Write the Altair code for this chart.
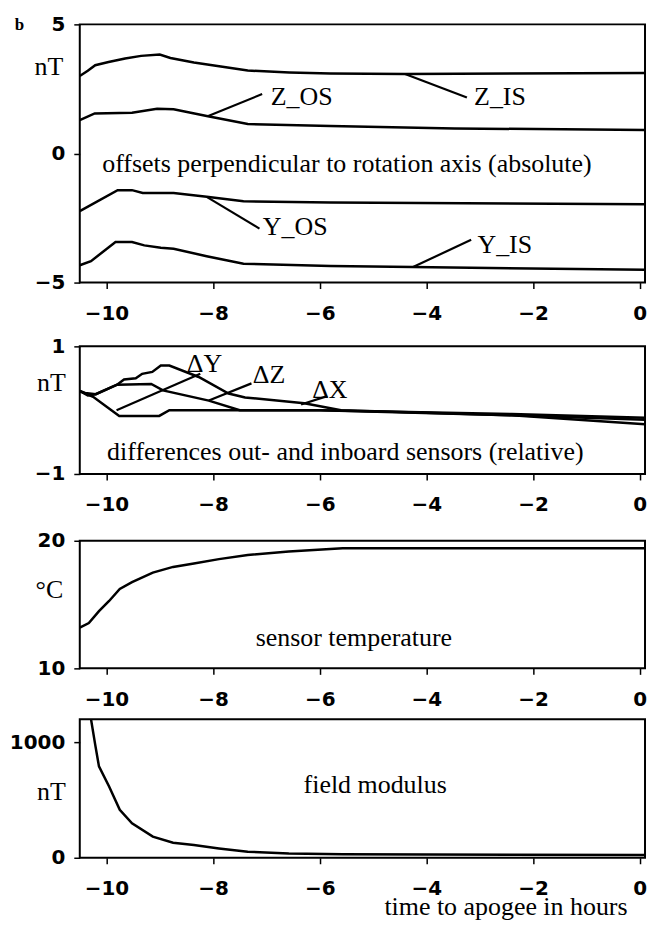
import altair as alt
import pandas as pd

SERIF = "Liberation Serif"
SANS = "DejaVu Sans"

x_ticks = [-10, -8, -6, -4, -2, 0]
x_domain = [-10.5, 0.1]

# ---- panel 1: offsets (nT)
z_is_t = [-10.5, -10.35, -10.21, -9.96, -9.65, -9.35, -9.0, -8.8, -8.36, -7.35, -6.57, -5.8, -4.4, 0.1]
z_is_v = [3.0, 3.2, 3.42, 3.54, 3.68, 3.78, 3.83, 3.70, 3.52, 3.21, 3.14, 3.10, 3.08, 3.12]
z_os_t = [-10.5, -10.22, -9.52, -9.05, -8.74, -8.12, -7.35, -5.8, -3.47, 0.1]
z_os_v = [1.29, 1.55, 1.58, 1.73, 1.71, 1.45, 1.14, 1.06, 0.97, 0.91]
y_os_t = [-10.5, -9.79, -9.52, -9.32, -8.74, -8.12, -7.43, -5.8, 0.1]
y_os_v = [-2.23, -1.42, -1.42, -1.53, -1.53, -1.68, -1.85, -1.90, -1.97]
y_is_t = [-10.5, -10.29, -9.83, -9.52, -9.29, -8.98, -8.74, -8.12, -7.43, -5.8, -4.26, 0.1]
y_is_v = [-4.33, -4.17, -3.43, -3.43, -3.56, -3.65, -3.69, -3.98, -4.27, -4.36, -4.40, -4.50]

p1_labels = ["Z_OS", "Z_IS", "Y_OS", "Y_IS", "offsets perpendicular to rotation axis (absolute)"]
p1_label_t = [-6.34, -2.62, -6.46, -2.53, -5.49]
p1_label_v = [2.20, 2.17, -2.85, -3.56, -0.39]
p1_lead_t = [-8.09, -4.40, -8.12, -4.25]
p1_lead_v = [1.45, 3.08, -1.68, -4.40]
p1_lead_t2 = [-7.08, -3.24, -7.13, -3.16]
p1_lead_v2 = [2.30, 2.17, -2.91, -3.34]

# figure panel letter (annotation in panel-1 data units, left of the axis)
panel_letter = ["b"]
panel_letter_t = [-11.63]
panel_letter_v = [4.98]

# ---- panel 2: differences (nT)
dx_t = [-10.5, -10.35, -10.2, -9.8, -9.67, -9.45, -9.33, -9.14, -8.98, -8.82, -8.27, -7.71, -7.40, -6.29, -5.6, -2.4, 0.1]
dx_v = [0.30, 0.23, 0.25, 0.40, 0.48, 0.50, 0.57, 0.60, 0.70, 0.70, 0.52, 0.26, 0.20, 0.11, 0.0, -0.08, -0.22]
dz_t = [-10.5, -10.4, -10.2, -9.8, -9.16, -8.94, -8.08, -7.5, -6.0, -2.4, 0.1]
dz_v = [0.30, 0.27, 0.25, 0.40, 0.41, 0.31, 0.15, 0.0, 0.0, -0.06, -0.12]
dy_t = [-10.5, -10.25, -9.76, -9.01, -8.82, -6.0, -2.4, 0.1]
dy_v = [0.30, 0.21, -0.09, -0.09, 0.0, 0.0, -0.08, -0.15]

p2_labels = ["ΔY", "ΔZ", "ΔX", "differences out- and inboard sensors (relative)"]
p2_label_t = [-8.16, -6.95, -5.81, -5.52]
p2_label_v = [0.72, 0.55, 0.32, -0.65]
p2_lead_t = [-9.81, -8.08, -6.35]
p2_lead_v = [0.0, 0.15, 0.09]
p2_lead_t2 = [-8.24, -7.28, -5.86]
p2_lead_v2 = [0.57, 0.42, 0.22]

# ---- panel 3: sensor temperature (°C)
temp_t = [-10.5, -10.33, -10.14, -9.95, -9.75, -9.52, -9.13, -8.75, -8.36, -7.89, -7.35, -6.58, -5.57, 0.1]
temp_v = [13.2, 13.55, 14.48, 15.28, 16.22, 16.75, 17.5, 17.95, 18.22, 18.56, 18.88, 19.15, 19.41, 19.41]
p3_labels = ["sensor temperature"]
p3_label_t = [-5.36]
p3_label_v = [12.35]

# ---- panel 4: field modulus (nT)
field_t = [-10.5, -10.3, -10.21, -10.14, -9.95, -9.75, -9.52, -9.13, -8.75, -8.36, -7.89, -7.35, -6.58, -5.57, 0.1]
field_v = [1260, 1230, 978, 791, 617, 415, 299, 183, 130, 110, 81, 52, 38, 30, 23]
p4_labels = ["field modulus"]
p4_label_t = [-4.96]
p4_label_v = [632]

W = 567
TXT = 26


def series(pairs):
    frames = []
    for name, t, v in pairs:
        frames.append(pd.DataFrame({"t": t, "v": v, "s": name}))
    return pd.concat(frames, ignore_index=True)


def x_enc(last=False):
    kw = dict(
        values=x_ticks, format="d", grid=False, domain=False, tickColor="black", tickSize=6, tickWidth=1.5,
        labelFont=SANS, labelFontWeight="bold", labelFontSize=20, labelColor="black",
        labelPadding=15, labelFlush=False,
    )
    if last:
        kw.update(title="time to apogee in hours", titleFont=SERIF, titleFontSize=TXT,
                  titleFontWeight="normal", titleColor="black", titleAlign="right",
                  titleX=549, titleY=57, titleBaseline="alphabetic")
    else:
        kw.update(title=None)
    return alt.X("t:Q", scale=alt.Scale(domain=x_domain, nice=False, zero=False), axis=alt.Axis(**kw))


def y_enc(domain, values, unit, ty, tx):
    return alt.Y(
        "v:Q",
        scale=alt.Scale(domain=domain, nice=False, zero=False),
        axis=alt.Axis(
            values=values, format="d", grid=False, domain=False, tickColor="black", tickSize=6, tickWidth=1.5,
            labelFont=SANS, labelFontWeight="bold", labelFontSize=20, labelColor="black",
            labelPadding=9, labelFlush=False,
            title=unit, titleAngle=0, titleFont=SERIF, titleFontSize=TXT, titleFontWeight="normal",
            titleColor="black", titleAlign="center", titleBaseline="middle", titleX=tx, titleY=ty,
        ),
    )


def panel(lines_df, ydom, yvals, unit, ty, tx, height, labels, lt, lv, leads=None, last=False, extra=None):
    xe = x_enc(last=last)
    ye = y_enc(ydom, yvals, unit, ty, tx)
    base_lines = alt.Chart(lines_df).mark_line(color="black", strokeWidth=2.5, clip=True).encode(
        x=xe, y=ye, detail="s:N", order="t:Q"
    )
    layers = [base_lines]
    if leads is not None:
        t1, v1, t2, v2 = leads
        ldf = pd.DataFrame({"t": t1, "v": v1, "t2": t2, "v2": v2})
        layers.append(
            alt.Chart(ldf).mark_rule(color="black", strokeWidth=2.2).encode(
                x="t:Q", y="v:Q", x2="t2:Q", y2="v2:Q"
            )
        )
    tdf = pd.DataFrame({"t": lt, "v": lv, "label": labels})
    layers.append(
        alt.Chart(tdf).mark_text(font=SERIF, fontSize=TXT, color="black", align="center", baseline="middle").encode(
            x="t:Q", y="v:Q", text="label:N"
        )
    )
    if extra is not None:
        layers.append(extra)
    return alt.layer(*layers).properties(width=W, height=height)


letter = alt.Chart(pd.DataFrame({"t": panel_letter_t, "v": panel_letter_v, "label": panel_letter})).mark_text(
    font=SERIF, fontSize=17, fontWeight="bold", color="black", align="center", baseline="middle"
).encode(x="t:Q", y="v:Q", text="label:N")

p1 = panel(
    series([("Z_IS", z_is_t, z_is_v), ("Z_OS", z_os_t, z_os_v), ("Y_OS", y_os_t, y_os_v), ("Y_IS", y_is_t, y_is_v)]),
    [-5, 5], [-5, 0, 5], "nT", 42.5, -31.5, 259,
    p1_labels, p1_label_t, p1_label_v,
    leads=(p1_lead_t, p1_lead_v, p1_lead_t2, p1_lead_v2), extra=letter,
)

p2 = panel(
    series([("dX", dx_t, dx_v), ("dZ", dz_t, dz_v), ("dY", dy_t, dy_v)]),
    [-1, 1], [-1, 0, 1], "nT", 36, -29, 128,
    p2_labels, p2_label_t, p2_label_v,
    leads=(p2_lead_t, p2_lead_v, p2_lead_t2, p2_lead_v2),
)

p3 = panel(
    series([("T", temp_t, temp_v)]),
    [10, 20], [10, 20], "°C", 49, -31, 128,
    p3_labels, p3_label_t, p3_label_v,
)

p4 = panel(
    series([("B", field_t, field_v)]),
    [0, 1200], [0, 1000], "nT", 73, -29, 139,
    p4_labels, p4_label_t, p4_label_v, last=True,
)

chart = alt.vconcat(
    alt.vconcat(p1, p2, spacing=11),
    alt.vconcat(p3, p4, spacing=8),
    spacing=14,
).properties(
    padding={"left": 0, "top": 4, "right": 0, "bottom": 0}
).configure_view(
    stroke="black", strokeWidth=2
)

chart.save("out.html", embed_options={"renderer": "svg", "actions": False})
